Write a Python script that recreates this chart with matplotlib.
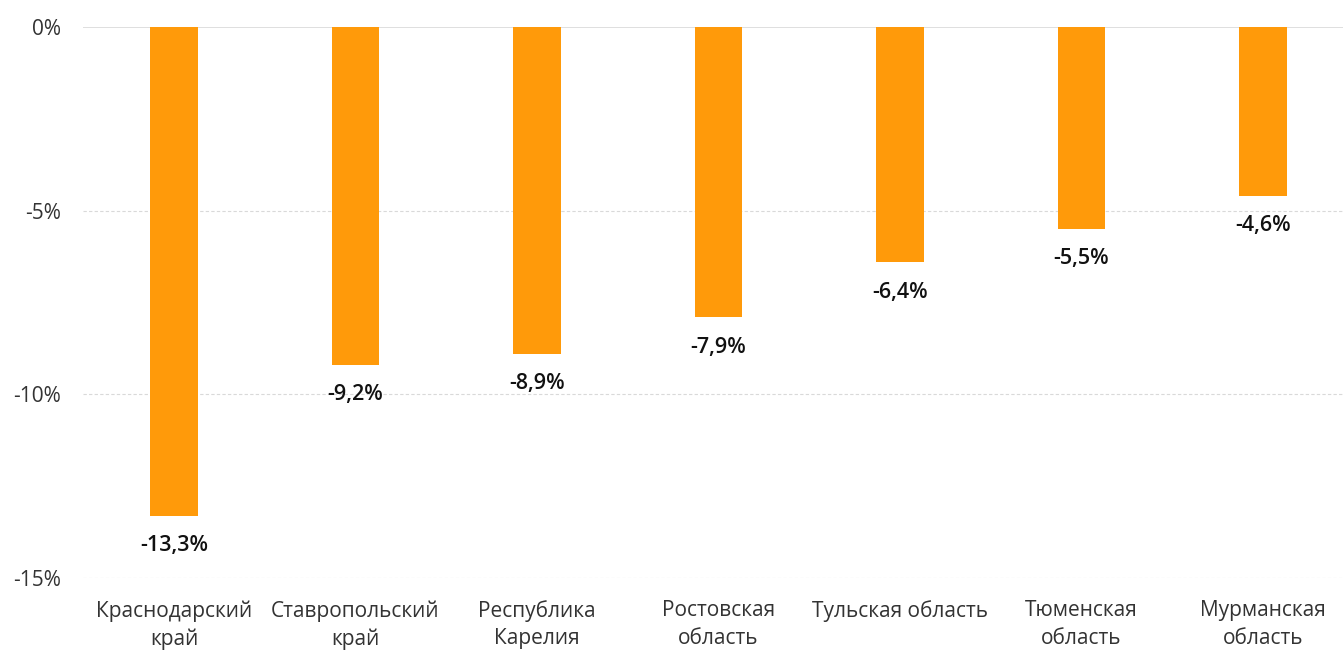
import matplotlib
matplotlib.use('Agg')
import matplotlib.pyplot as plt
from matplotlib.ticker import FuncFormatter

# Data
regions = ['Краснодарский\nкрай', 'Ставропольский\nкрай', 'Республика\nКарелия',
           'Ростовская\nобласть', 'Тульская область', 'Тюменская\nобласть',
           'Мурманская\nобласть']
change = [-13.3, -9.2, -8.9, -7.9, -6.4, -5.5, -4.6]
yticks = [0, -5, -10, -15]

plt.rcParams['font.family'] = ['Open Sans', 'DejaVu Sans']

fig = plt.figure(figsize=(13.43, 6.5), dpi=100)
ax = fig.add_axes([0.062, 0.1108, 0.946, 0.8477])

x = range(len(regions))
ax.bar(x, change, width=0.26, color='#FF9A0A', zorder=3)

for xi, v in zip(x, change):
    ax.annotate(f'{v:.1f}%'.replace('.', ','), (xi, v), xytext=(0, -14),
                textcoords='offset points', ha='center', va='top',
                fontsize=15.5, fontweight='semibold', color='#111111')

ax.set_xlim(-0.5, len(regions) - 0.5)
ax.set_ylim(-15, 0)
ax.set_yticks(yticks)
ax.yaxis.set_major_formatter(FuncFormatter(lambda v, p: f'{v:.0f}%'))
ax.set_xticks(list(x))
ax.set_xticklabels(regions, linespacing=1.4)

for t in yticks:
    if t == 0:
        ax.axhline(t, color='#d9d9d9', lw=1.2, zorder=1)
    else:
        ax.axhline(t, color='#d9d9d9', lw=0.8, ls=(0, (3, 2)), zorder=1)

for s in ax.spines.values():
    s.set_visible(False)
ax.tick_params(axis='both', length=0, labelsize=15, colors='#333333')
ax.tick_params(axis='x', pad=16)
ax.tick_params(axis='y', pad=16)

fig.savefig('out.png', dpi=100)
